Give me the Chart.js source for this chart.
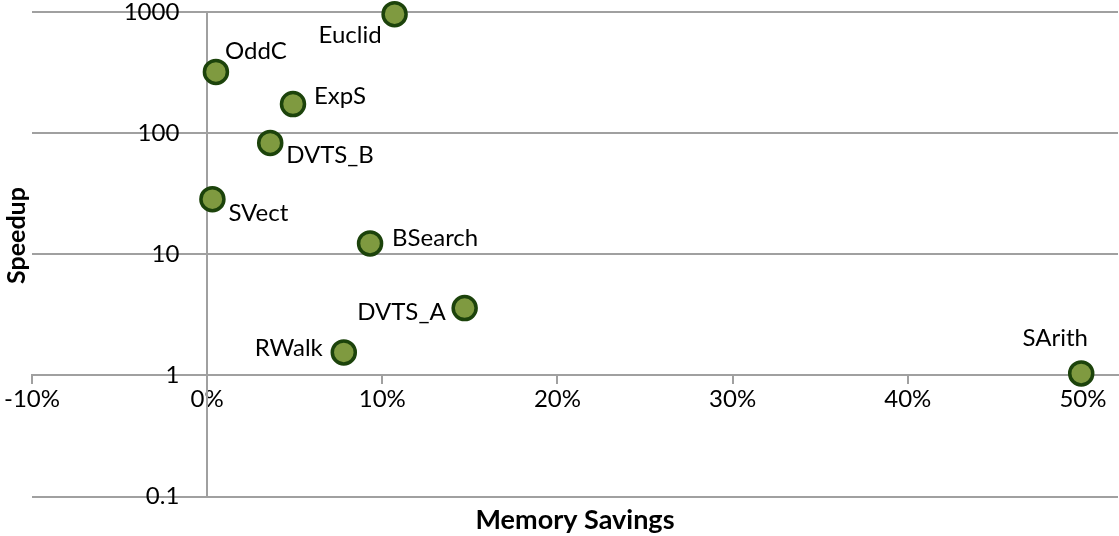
<!DOCTYPE html>
<html>
<head>
<meta charset="utf-8">
<script src="https://cdn.jsdelivr.net/npm/chart.js@4"></script>
<style>
  html, body { margin: 0; padding: 0; background: #fff; }
  #wrap { width: 1119px; height: 536px; }
</style>
</head>
<body>
<div id="wrap"><canvas id="myScatterChart"></canvas></div>
<script>
// SCATTER CHART - speedup vs memory savings

var names = ["Euclid", "OddC", "ExpS", "DVTS_B", "SVect", "BSearch", "DVTS_A", "RWalk", "SArith"];
var memorySavings = [0.107, 0.005, 0.049, 0.036, 0.003, 0.093, 0.147, 0.078, 0.499];
var speedups = [960, 320, 174, 83, 28.5, 12.3, 3.6, 1.55, 1.04];
var xTicks = [-0.1, 0, 0.1, 0.2, 0.3, 0.4, 0.5];
var yTicks = [0.1, 1, 10, 100, 1000];

// where each name sits next to its point: [dx, dy, align]
var labelPlacement = [
  [-13, 21, "right"],
  [9, -21, "left"],
  [21, -8, "left"],
  [16, 12, "left"],
  [16, 14, "left"],
  [22, -5, "left"],
  [-19, 4, "right"],
  [-21, -4, "right"],
  [-26, -35, "center"],
];

var labelFont = "24px Lato";
var gridColor = "#a0a0a0";

var pointLabels = {
  id: "pointLabels",
  afterDatasetsDraw: function (chart) {
    var ctx = chart.ctx;
    var meta = chart.getDatasetMeta(0);
    ctx.save();
    ctx.font = labelFont;
    ctx.fillStyle = "#000";
    ctx.textBaseline = "middle";
    meta.data.forEach(function (pt, i) {
      var p = labelPlacement[i];
      ctx.textAlign = p[2];
      ctx.fillText(names[i], pt.x + p[0], pt.y + p[1]);
    });
    ctx.restore();
  },
};

// the centred axes sit inside the plot, so they need no edge padding
function noEdgePadding(scale) {
  scale.paddingLeft = 0;
  scale.paddingRight = 0;
  scale.paddingTop = 0;
  scale.paddingBottom = 0;
}

var points = memorySavings.map(function (x, i) {
  return { x: x, y: speedups[i] };
});

var myScatterChart = document.getElementById("myScatterChart");

var scatterConfig = {
  type: "scatter",
  data: {
    datasets: [
      {
        label: "Speedup",
        data: points,
        backgroundColor: "#7f9a40",
        borderColor: "#1c430b",
        borderWidth: 3.5,
        pointRadius: 11.5,
        pointHoverRadius: 11.5,
        clip: false,
      },
    ],
  },
  options: {
    responsive: true,
    maintainAspectRatio: false,
    animation: false,
    layout: {
      autoPadding: false,
      padding: { left: 2, right: 1, top: 12, bottom: 0 },
    },
    plugins: {
      legend: { display: false },
      tooltip: { enabled: false },
      title: {
        display: true,
        position: "left",
        fullSize: false,
        // leading em spaces lift the word a little above the middle, as in the original
        text: "\u2003\u2003Speedup",
        color: "#000",
        font: { family: "Lato", size: 25, weight: "bold" },
        padding: 0,
      },
      subtitle: {
        display: true,
        position: "bottom",
        fullSize: false,
        text: "Memory Savings",
        color: "#000",
        font: { family: "Lato", size: 27, weight: "bold" },
        padding: { top: 7, bottom: 0 },
      },
    },
    scales: {
      x: {
        type: "linear",
        position: { y: 1 },
        min: -0.1,
        max: 0.52,
        afterBuildTicks: function (scale) {
          scale.ticks = xTicks.map(function (v) { return { value: v }; });
        },
        afterFit: noEdgePadding,
        grid: { drawOnChartArea: false, color: gridColor, lineWidth: 2, tickLength: 8 },
        border: { color: gridColor, width: 2 },
        ticks: {
          color: "#000",
          font: { family: "Lato", size: 24 },
          padding: 1,
          maxRotation: 0,
          autoSkip: false,
          callback: function (v) { return Math.round(v * 100) + "%"; },
        },
      },
      y: {
        type: "logarithmic",
        position: { x: 0 },
        min: 0.1,
        max: 1000,
        afterBuildTicks: function (scale) {
          scale.ticks = yTicks.map(function (v) { return { value: v }; });
        },
        afterFit: noEdgePadding,
        grid: { color: gridColor, lineWidth: 2, tickLength: 9 },
        border: { color: gridColor, width: 2 },
        ticks: {
          color: "#000",
          font: { family: "Lato", size: 24 },
          autoSkip: false,
          // centred axes ignore tick padding, so keep the gap with figure spaces
          callback: function (v) { return String(v) + "\u2007\u2007"; },
        },
      },
    },
  },
  plugins: [pointLabels],
};

var scatterChart = new Chart(myScatterChart, scatterConfig);
</script>
</body>
</html>
